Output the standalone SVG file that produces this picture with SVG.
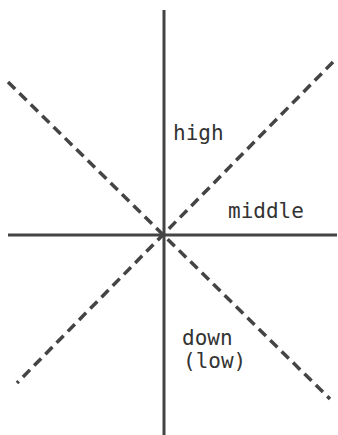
<svg xmlns="http://www.w3.org/2000/svg" width="338" height="435" viewBox="0 0 338 435">
<style>
.axis{stroke:#444;stroke-width:3;fill:none}
.dash{stroke:#444;stroke-width:3.5;fill:none;stroke-dasharray:10 6}
.lbl{font-family:"DejaVu Sans Mono","Liberation Mono",monospace;font-size:21px;fill:#333}
</style>
<rect width="338" height="435" fill="#fff"/>
<g id="connectors">
<line class="axis" x1="164" y1="10" x2="164" y2="435"/>
<line class="axis" x1="8" y1="235" x2="337" y2="235"/>
<line class="dash" x1="8" y1="82" x2="330" y2="399"/>
<line class="dash" x1="333" y1="62" x2="17" y2="383"/>
</g>
<g id="high"><text class="lbl" x="173" y="140">high</text></g>
<g id="middle"><text class="lbl" x="228" y="218">middle</text></g>
<g id="down"><text class="lbl" x="182" y="345">down</text><text class="lbl" x="183" y="368">(low)</text></g>
</svg>
